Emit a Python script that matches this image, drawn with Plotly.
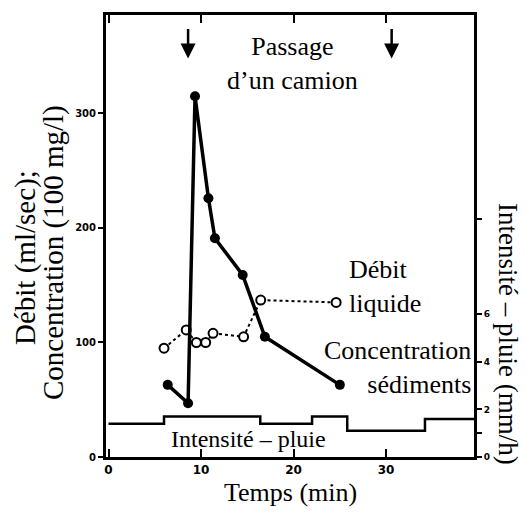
import plotly.graph_objects as go

# ---- data ----
time_conc = [6.4, 8.6, 9.35, 10.8, 11.5, 14.5, 16.9, 25.0]
concentration = [63, 47, 315, 226, 191, 159, 105, 63]

time_debit = [6.0, 8.4, 9.5, 10.5, 11.3, 14.6, 16.45, 24.6]
debit = [95, 111, 100, 100, 108, 105, 137, 135]

rain_time = [0, 6, 16.4, 22, 25.8, 34.2, 40]
rain_intensity = [1.4, 1.7, 1.4, 1.7, 1.1, 1.6, 1.6]

truck_times = [8.6, 30.6]

x_ticks = [0, 10, 20, 30]
y_ticks = [0, 100, 200, 300]
y2_ticks = [0, 1, 2, 4, 6, 10]
y2_ticktext = ["0", "", "2", "4", "6", ""]

W, H = 526, 513
L, R, T, B = 106, 474, 15, 457


def px(x):
    return (x - L) / (R - L)


def py(y):
    return (B - y) / (B - T)


serif = "Liberation Serif"

fig = go.Figure()
fig.add_trace(go.Scatter(
    x=rain_time, y=rain_intensity, yaxis="y2", mode="lines",
    line=dict(color="black", width=2.5, shape="hv"), showlegend=False))
fig.add_trace(go.Scatter(
    x=time_debit, y=debit, mode="lines+markers",
    line=dict(color="black", width=2, dash="dot"),
    marker=dict(symbol="circle", size=9, color="white",
                line=dict(color="black", width=2)),
    showlegend=False))
fig.add_trace(go.Scatter(
    x=time_conc, y=concentration, mode="lines+markers",
    line=dict(color="black", width=3.5),
    marker=dict(symbol="circle", size=10, color="black"),
    showlegend=False))

annotations = []
for t in truck_times:
    annotations.append(dict(
        x=t, y=348, xref="x", yref="y", text="", showarrow=True,
        ax=0, ay=-31, arrowhead=2, arrowsize=1.2, arrowwidth=2.5,
        arrowcolor="black"))

tf = dict(family=serif, size=26, color="black")
annotations += [
    dict(x=px(292), y=py(63.5), xref="paper", yref="paper",
         text="Passage<br>d’un camion", showarrow=False, font=tf,
         xanchor="center", yanchor="middle"),
    dict(x=px(347), y=py(286), xref="paper", yref="paper",
         text="Débit<br>liquide", showarrow=False, font=tf, align="left",
         xanchor="left", yanchor="middle"),
    dict(x=px(473), y=py(367), xref="paper", yref="paper",
         text="Concentration<br>sédiments", showarrow=False, font=tf,
         align="right", xanchor="right", yanchor="middle"),
    dict(x=px(248), y=py(439), xref="paper", yref="paper",
         text="Intensité – pluie", showarrow=False,
         font=dict(family=serif, size=24, color="black"),
         xanchor="center", yanchor="middle"),
    dict(x=px(290), y=py(493), xref="paper", yref="paper",
         text="Temps (min)", showarrow=False, font=tf,
         xanchor="center", yanchor="middle"),
    dict(x=px(25), y=py(258), xref="paper", yref="paper",
         text="Débit (ml/sec);", showarrow=False,
         font=dict(family=serif, size=29, color="black"), textangle=-90,
         xanchor="center", yanchor="middle"),
    dict(x=px(53), y=py(253), xref="paper", yref="paper",
         text="Concentration (100 mg/l)", showarrow=False,
         font=dict(family=serif, size=29, color="black"),
         textangle=-90, xanchor="center", yanchor="middle"),
    dict(x=px(508), y=py(334), xref="paper", yref="paper",
         text="Intensité – pluie (mm/h)", showarrow=False,
         font=dict(family=serif, size=27, color="black"),
         textangle=90, xanchor="center", yanchor="middle"),
]

tickfont = dict(family="DejaVu Sans", size=12, color="black", weight="bold")

fig.update_layout(
    width=W, height=H,
    margin=dict(l=L, r=W - R, t=T, b=H - B),
    paper_bgcolor="white", plot_bgcolor="white",
    xaxis=dict(range=[-0.27, 39.5], tickvals=x_ticks, ticks="inside",
               ticklen=8, tickwidth=2, tickcolor="black",
               showline=True, linewidth=3, linecolor="black", mirror="ticks",
               showgrid=False, zeroline=False, tickfont=tickfont),
    yaxis=dict(range=[0, 386], tickvals=y_ticks, ticks="outside",
               ticklen=5, tickwidth=2, tickcolor="black",
               showline=True, linewidth=3, linecolor="black",
               showgrid=False, zeroline=False,
               tickfont=dict(family="DejaVu Sans", size=10, color="black",
                             weight="bold")),
    yaxis2=dict(range=[0, 18.55], overlaying="y", side="right",
                tickvals=y2_ticks, ticktext=y2_ticktext, ticks="outside",
                ticklen=5, tickwidth=2, tickcolor="black",
                showline=True, linewidth=3, linecolor="black",
                showgrid=False, zeroline=False,
                tickfont=dict(family="DejaVu Sans", size=9, color="black",
                              weight="bold")),
    annotations=annotations,
    showlegend=False,
)

fig.write_html("out.html")
